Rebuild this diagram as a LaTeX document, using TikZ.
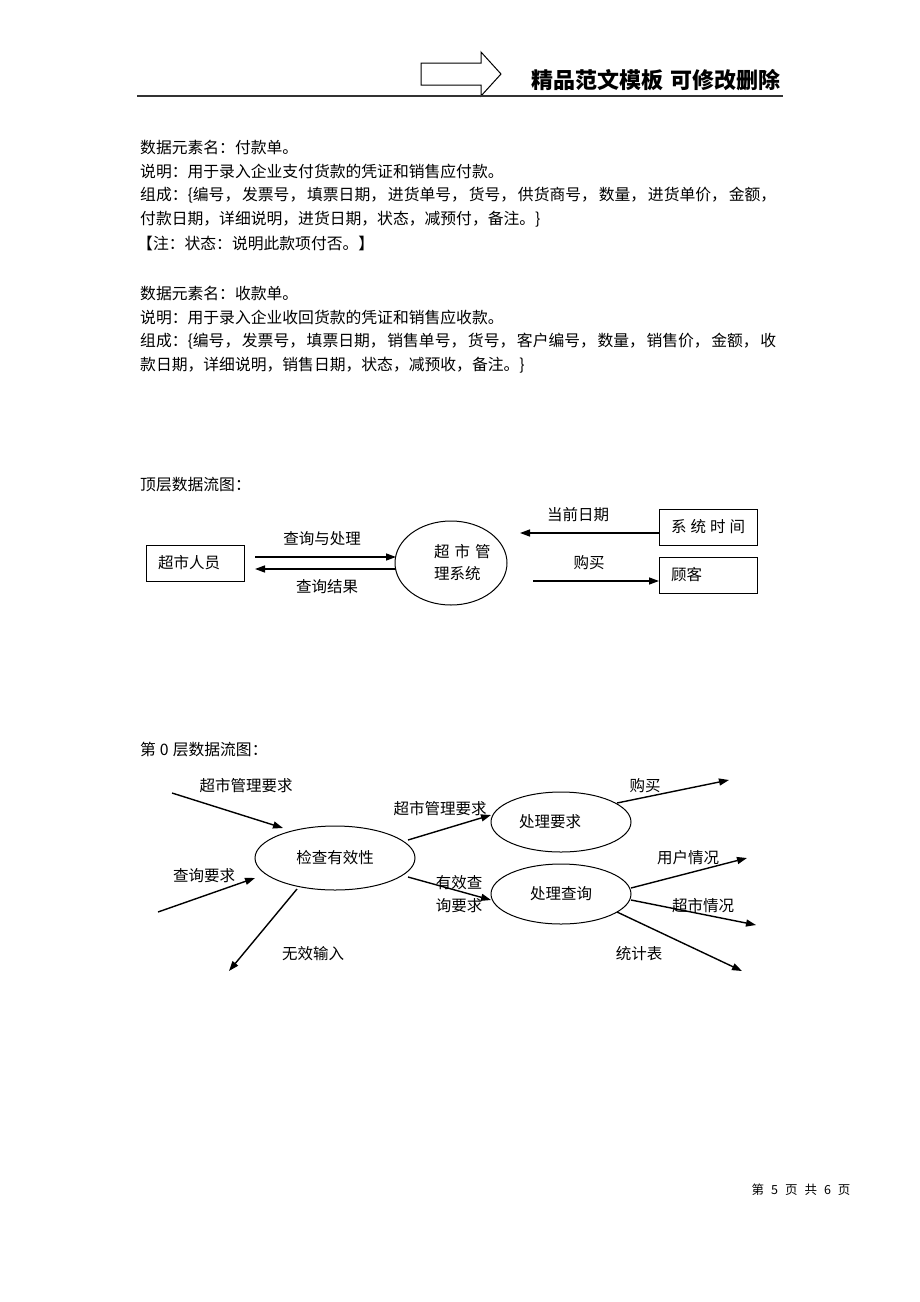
\documentclass[tikz,border=0pt]{standalone}
\usepackage{fontspec}
\setmainfont{Noto Sans CJK SC}
\usetikzlibrary{arrows.meta,shapes.geometric}
\begin{document}
\begin{tikzpicture}[x=1pt,y=-1pt,
  txt/.style={anchor=west,inner sep=0pt,font=\fontsize{15.8}{18}\selectfont},
  lbl/.style={inner sep=0pt,font=\fontsize{15.5}{18}\selectfont},
  box/.style={draw,line width=1pt,minimum width=98pt,minimum height=36pt,inner xsep=12pt,inner ysep=0pt,text width=74pt,align=left,font=\fontsize{15.5}{18}\selectfont},
  proc/.style={draw,ellipse,line width=1pt,inner sep=0pt,font=\fontsize{15.5}{18}\selectfont},
  flow/.style={line width=1.4pt,-{Triangle[length=10pt,width=7pt]}}]
\useasboundingbox[fill=white] (0,0) rectangle (920,1302);

% header
\draw[line width=1pt] (421,63) -- (481,63) -- (481,52) -- (501,74) -- (481,96) -- (481,85) -- (421,85) -- cycle;
\draw[line width=1.5pt,black!80] (137,96) -- (783,96);
\node[anchor=west,inner sep=0pt,font=\fontsize{22}{24}\selectfont\bfseries] (hdr) at (531,80) {精品范文模板\hspace{7pt}可修改删除};

% body text
\node[txt] (t1) at (140,147) {数据元素名：付款单。};
\node[txt] (t2) at (140,171) {说明：用于录入企业支付货款的凭证和销售应付款。};
\node[txt] (t3) at (140,195) {\makebox[636pt][s]{组成：\{编号，\hfil 发票号，\hfil 填票日期，\hfil 进货单号，\hfil 货号，\hfil 供货商号，\hfil 数量，\hfil 进货单价，\hfil 金额，}};
\node[txt] (t4) at (140,219) {付款日期，详细说明，进货日期，状态，减预付，备注。\}};
\node[txt] (t5) at (137,243) {【注：状态：说明此款项付否。】};
\node[txt] (t6) at (140,293) {数据元素名：收款单。};
\node[txt] (t7) at (140,317) {说明：用于录入企业收回货款的凭证和销售应收款。};
\node[txt] (t8) at (140,341) {\makebox[636pt][s]{组成：\{编号，\hfil 发票号，\hfil 填票日期，\hfil 销售单号，\hfil 货号，\hfil 客户编号，\hfil 数量，\hfil 销售价，\hfil 金额，\hfil 收}};
\node[txt] (t9) at (140,365) {款日期，详细说明，销售日期，状态，减预收，备注。\}};
\node[txt] (t10) at (140,485) {顶层数据流图：};
\node[txt] (t11) at (140,750) {第\hspace{4pt}0\hspace{4pt}层数据流图：};

% top-level DFD
\node[box] (staff) at (195,563) {超市人员};
\node[box] (clock) at (708,527) {系\hspace{4pt}统\hspace{4pt}时\hspace{4pt}间};
\node[box] (cust) at (708,575) {顾客};
\node[proc,minimum width=112pt,minimum height=84pt] (sys) at (451,563) {};
\node[lbl,align=left,anchor=west] (syslbl) at (434,563) {超\hspace{5pt}市\hspace{5pt}管\\[4pt]理系统};

\coordinate (a1s) at (255,557); \coordinate (a1e) at (396,557);
\coordinate (a2s) at (396,569); \coordinate (a2e) at (255,569);
\coordinate (a3s) at (659,533); \coordinate (a3e) at (520,533);
\coordinate (a4s) at (533,581); \coordinate (a4e) at (659,581);
\draw[flow] (a1s) -- (a1e);
\draw[flow] (a2s) -- (a2e);
\draw[flow] (a3s) -- (a3e);
\draw[flow] (a4s) -- (a4e);
\node[lbl] (l1) at (322,539) {查询与处理};
\node[lbl] (l2) at (327,587) {查询结果};
\node[lbl] (l3) at (578,515) {当前日期};
\node[lbl] (l4) at (589,563) {购买};

% level-0 DFD
\node[proc,minimum width=160pt,minimum height=64pt] (chk) at (335,858) {检查有效性};
\node[proc,minimum width=140pt,minimum height=60pt] (req) at (561,822) {\hspace*{-22pt}处理要求};
\node[proc,minimum width=140pt,minimum height=60pt] (qry) at (561,894) {处理查询};

\coordinate (in1) at (172,793); \coordinate (in1e) at (283,828);
\coordinate (in2) at (158,912); \coordinate (in2e) at (255,878);
\coordinate (bad1) at (297,889); \coordinate (bad2) at (229,971);
\coordinate (m1) at (408,840); \coordinate (m1e) at (491,815);
\coordinate (m2) at (408,877); \coordinate (m2e) at (491,900);
\coordinate (o1) at (617,803); \coordinate (o1e) at (729,780);
\coordinate (o2) at (631,888); \coordinate (o2e) at (747,858);
\coordinate (o3) at (631,900); \coordinate (o3e) at (756,925);
\coordinate (o4) at (617,912); \coordinate (o4e) at (742,971);
\draw[flow] (in1) -- (in1e);
\draw[flow] (in2) -- (in2e);
\draw[flow] (bad1) -- (bad2);
\draw[flow] (m1) -- (m1e);
\draw[flow] (m2) -- (m2e);
\draw[flow] (o1) -- (o1e);
\draw[flow] (o2) -- (o2e);
\draw[flow] (o3) -- (o3e);
\draw[flow] (o4) -- (o4e);

\node[lbl] (k1) at (246,786) {超市管理要求};
\node[lbl] (k2) at (204,876) {查询要求};
\node[lbl] (k3) at (313,954) {无效输入};
\node[lbl] (k4) at (440,809) {超市管理要求};
\node[lbl,align=left] (k5) at (459,894) {有效查\\[5pt]询要求};
\node[lbl] (k6) at (645,786) {购买};
\node[lbl] (k7) at (688,858) {用户情况};
\node[lbl] (k8) at (703,906) {超市情况};
\node[lbl] (k9) at (639,954) {统计表};

% footer
\node[inner sep=0pt,font=\fontsize{12.5}{14}\selectfont] (ft) at (801,1190) {第\hspace{7pt}5\hspace{7pt}页\hspace{7pt}共\hspace{7pt}6\hspace{7pt}页};
\end{tikzpicture}
\end{document}
